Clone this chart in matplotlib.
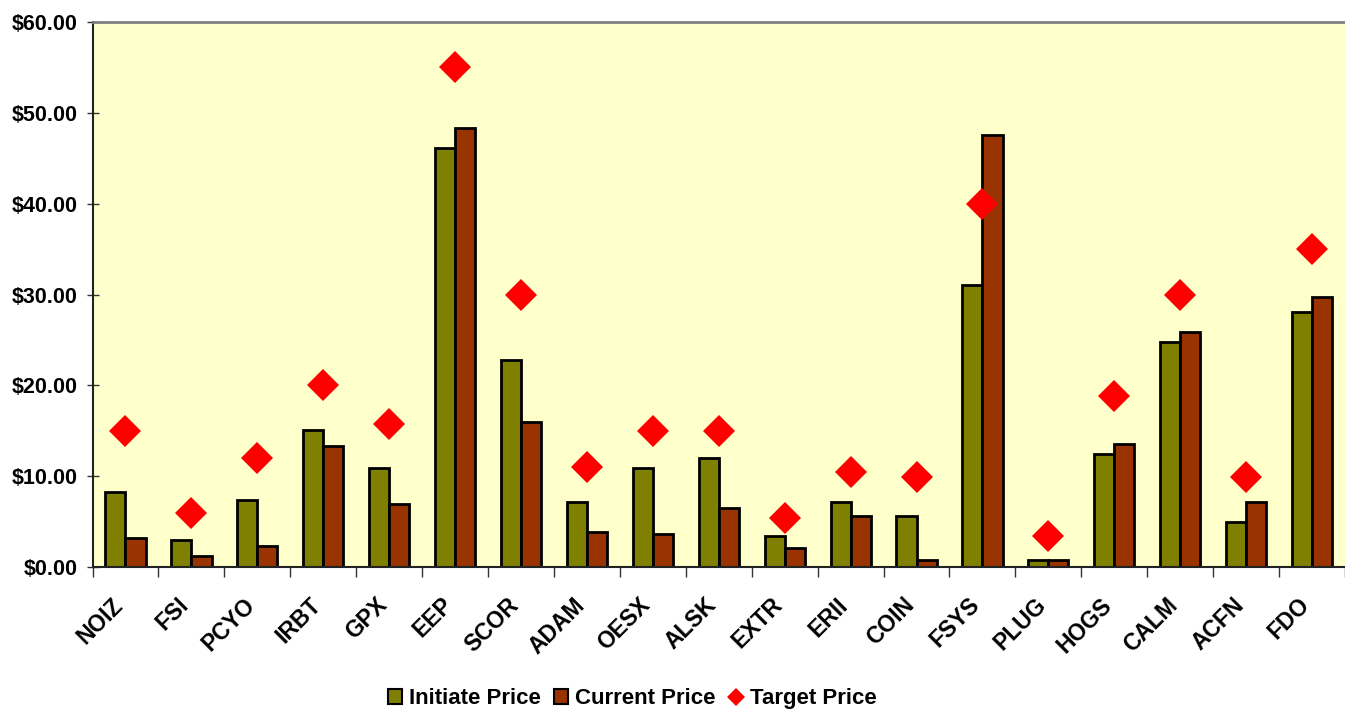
import matplotlib.pyplot as plt
import numpy as np
from matplotlib.patches import Patch
from matplotlib.lines import Line2D
from matplotlib.ticker import FuncFormatter
from matplotlib.transforms import ScaledTranslation

plt.rcParams['font.family'] = ['Liberation Sans', 'DejaVu Sans']
plt.rcParams['font.weight'] = 'bold'

# Values
tickers = ['NOIZ', 'FSI', 'PCYO', 'IRBT', 'GPX', 'EEP', 'SCOR', 'ADAM', 'OESX', 'ALSK',
           'EXTR', 'ERII', 'COIN', 'FSYS', 'PLUG', 'HOGS', 'CALM', 'ACFN', 'FDO']
initiate_price = [8.30, 3.00, 7.40, 15.10, 10.90, 46.10, 22.80, 7.20, 10.90, 12.00,
                  3.45, 7.20, 5.60, 31.10, 0.80, 12.45, 24.75, 5.00, 28.05]
current_price = [3.25, 1.25, 2.35, 13.30, 6.95, 48.35, 16.00, 3.90, 3.65, 6.50,
                 2.10, 5.60, 0.80, 47.60, 0.80, 13.55, 25.85, 7.20, 29.70]
target_price = [15.00, 6.00, 12.00, 20.00, 15.80, 55.00, 30.00, 11.00, 15.00, 15.00,
                5.40, 10.50, 9.90, 40.00, 3.45, 18.80, 30.00, 9.90, 35.00]

green = '#808000'
brown = '#993300'

fig = plt.figure(figsize=(13.45, 7.11), dpi=100)
ax = fig.add_axes([0.0688, 0.2025, 0.9312, 0.7665])
ax.set_facecolor('#FFFFCC')

x = np.arange(len(tickers))
w = 0.305
ax.bar(x - w / 2, initiate_price, w, color=green, edgecolor='black', linewidth=2, zorder=2)
ax.bar(x + w / 2, current_price, w, color=brown, edgecolor='black', linewidth=2, zorder=2)
ax.plot(x, target_price, linestyle='none', marker='D', markersize=16,
        color='#FF0000', markeredgewidth=0, zorder=3)

ax.set_xlim(-0.5, len(tickers) - 0.5)
ax.set_ylim(0, 60)
ax.set_yticks(np.arange(0, 61, 10))
ax.yaxis.set_major_formatter(FuncFormatter(lambda v, p: f'${v:.2f}'))
ax.tick_params(axis='y', direction='inout', length=9, width=1, color='#333333',
               labelsize=15.5, pad=6)

ax.set_xticks(x)
ax.set_xticklabels(tickers, rotation=45, ha='right', va='center', rotation_mode='anchor')
ax.set_xticks(np.arange(-0.5, len(tickers), 1), minor=True)
ax.tick_params(axis='x', which='major', length=0, labelsize=16.5, pad=27)
ax.tick_params(axis='x', which='minor', direction='out', length=7, width=1, color='#333333')
shift = ScaledTranslation(-0.06, 0.03, fig.dpi_scale_trans)
for lab in ax.get_xticklabels():
    lab.set_transform(lab.get_transform() + shift)

ax.spines['top'].set_color('#808080')
ax.spines['top'].set_linewidth(2)
ax.spines['right'].set_visible(False)
ax.spines['left'].set_color('#222222')
ax.spines['left'].set_linewidth(1.5)
ax.spines['bottom'].set_color('#222222')
ax.spines['bottom'].set_linewidth(1.5)

handles = [Patch(facecolor=green, edgecolor='black', linewidth=1.5, label='Initiate Price'),
           Patch(facecolor=brown, edgecolor='black', linewidth=1.5, label='Current Price'),
           Line2D([], [], linestyle='none', marker='D', markersize=9, color='#FF0000',
                  markeredgewidth=0, label='Target Price')]
fig.legend(handles=handles, loc='lower center', bbox_to_anchor=(0.47, -0.026), ncol=3,
           frameon=False, fontsize=16, handlelength=0.65, handleheight=0.65,
           handletextpad=0.3, columnspacing=0.6)

plt.savefig('out.png', dpi=100)
plt.close()
